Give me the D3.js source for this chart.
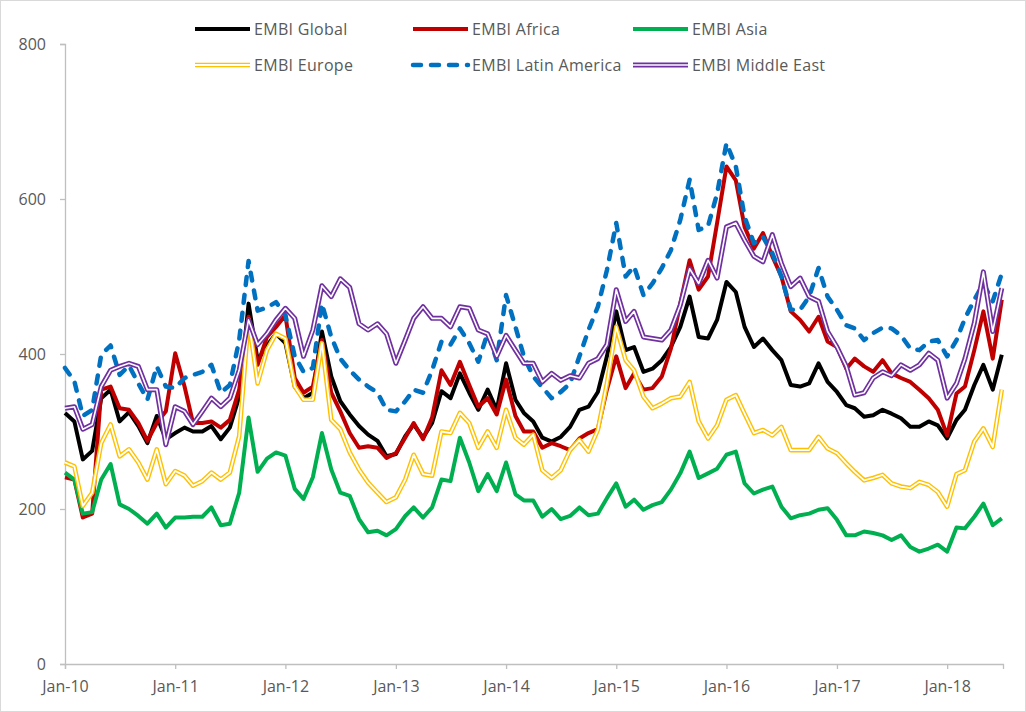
<!DOCTYPE html>
<html>
<head>
<meta charset="utf-8">
<script src="https://cdn.jsdelivr.net/npm/d3@7"></script>
<style>
    body { margin: 0; background: #fff; }
    svg { display: block; font-family: "Open Sans", "Liberation Sans", sans-serif; }
</style>
</head>
<body>
<svg id="chart" width="1026" height="712"></svg>
<script>
// monthly spreads, Jan-10 .. Jul-18 (bp)
var startMonth = [2010, 0];
var yTicks = [0, 200, 400, 600, 800];

var embiGlobal = [324, 313, 264, 275, 343, 354, 313, 325, 307, 285, 320, 290,
    298, 305, 300, 300, 307, 290, 305, 345, 465, 392, 411, 426,
    414, 358, 343, 350, 429, 371, 339, 322, 307, 296, 288, 268,
    271, 294, 309, 292, 311, 352, 343, 375, 350, 328, 354, 328,
    388, 341, 324, 313, 292, 287, 293, 306, 328, 332, 351, 397,
    455, 405, 409, 377, 381, 392, 409, 435, 474, 422, 420, 444,
    493, 480, 435, 409, 420, 405, 392, 360, 358, 362, 388, 364,
    351, 334, 330, 319, 321, 328, 323, 317, 306, 306, 313, 308,
    291, 315, 328, 360, 386, 354, 399];

var embiAfrica = [241, 238, 189, 194, 354, 358, 330, 328, 311, 288, 311, 326,
    401, 358, 311, 311, 313, 305, 315, 354, 448, 386, 422, 435,
    450, 369, 350, 358, 418, 350, 326, 298, 279, 281, 279, 266,
    272, 292, 311, 290, 318, 379, 360, 390, 360, 332, 343, 322,
    367, 320, 300, 300, 279, 285, 281, 276, 291, 298, 303, 354,
    397, 356, 375, 354, 356, 371, 407, 465, 521, 483, 500, 569,
    642, 624, 564, 536, 556, 526, 500, 455, 444, 429, 448, 416,
    409, 381, 394, 384, 377, 392, 375, 369, 364, 354, 343, 328,
    295, 349, 358, 405, 455, 394, 470];

var embiAsia = [247, 238, 194, 196, 238, 258, 206, 200, 191, 181, 194, 176,
    189, 189, 190, 190, 202, 179, 181, 221, 318, 248, 265, 273,
    269, 226, 213, 241, 298, 251, 221, 217, 187, 170, 172, 166,
    174, 191, 202, 189, 202, 238, 236, 292, 260, 223, 245, 223,
    260, 219, 211, 211, 190, 200, 187, 191, 202, 192, 194, 214,
    233, 203, 212, 199, 205, 209, 225, 246, 274, 240, 246, 252,
    270, 274, 233, 220, 225, 229, 203, 188, 192, 194, 199, 201,
    186, 166, 166, 171, 169, 166, 160, 166, 151, 145, 149, 154,
    145, 176, 175, 190, 207, 179, 188];

var embiEurope = [260, 255, 204, 221, 285, 309, 268, 277, 260, 238, 277, 232,
    249, 243, 230, 236, 247, 238, 247, 294, 444, 362, 405, 426,
    420, 358, 341, 341, 414, 315, 303, 273, 251, 234, 221, 209,
    215, 238, 270, 245, 243, 300, 298, 324, 311, 279, 300, 279,
    328, 292, 283, 296, 250, 240, 250, 276, 289, 274, 302, 362,
    435, 392, 379, 345, 330, 336, 343, 345, 364, 313, 291, 308,
    341, 347, 323, 298, 302, 295, 306, 276, 276, 276, 293, 278,
    272, 259, 248, 237, 240, 244, 233, 229, 227, 235, 231, 222,
    203, 245, 250, 287, 304, 280, 354];

var embiLatin = [382, 365, 320, 328, 399, 411, 373, 385, 362, 341, 384, 358,
    356, 369, 373, 377, 386, 350, 360, 418, 520, 456, 460, 467,
    450, 397, 377, 382, 465, 422, 394, 379, 367, 358, 350, 328,
    326, 339, 354, 350, 379, 416, 412, 433, 414, 390, 427, 392,
    476, 435, 397, 371, 357, 343, 351, 362, 397, 431, 461, 508,
    569, 500, 513, 476, 491, 511, 534, 573, 625, 560, 565, 607,
    672, 642, 577, 543, 551, 530, 500, 457, 457, 474, 511, 474,
    457, 437, 433, 418, 427, 434, 433, 424, 407, 405, 416, 418,
    397, 418, 446, 470, 491, 468, 504];

var embiMiddleEast = [330, 332, 303, 309, 358, 379, 384, 388, 384, 354, 354, 283,
    332, 326, 309, 326, 343, 332, 343, 379, 444, 412, 426, 444,
    459, 446, 397, 431, 488, 474, 497, 486, 439, 431, 439, 426,
    388, 418, 446, 461, 446, 446, 435, 461, 459, 431, 426, 397,
    424, 405, 388, 388, 364, 375, 366, 372, 369, 388, 394, 412,
    483, 442, 455, 422, 420, 418, 431, 463, 510, 491, 521, 498,
    564, 569, 547, 526, 519, 554, 517, 487, 498, 474, 468, 429,
    409, 384, 347, 350, 369, 377, 372, 386, 379, 386, 401, 392,
    343, 362, 394, 440, 506, 429, 485];

var seriesNames = ["EMBI Global", "EMBI Africa", "EMBI Asia",
    "EMBI Europe", "EMBI Latin America", "EMBI Middle East"];
var seriesValues = [embiGlobal, embiAfrica, embiAsia, embiEurope, embiLatin, embiMiddleEast];

// how each series is stroked
var styles = [
    {color: "#000000", width: 4},
    {color: "#c00000", width: 4},
    {color: "#00b050", width: 4},
    {color: "#ffc000", width: 4.6, inner: 1.8},
    {color: "#0070c0", width: 4.5, dash: "8,10"},
    {color: "#7030a0", width: 5, inner: 1.6}
];

var svg = d3.select("#chart"),
    plotLeft = 65,
    plotRight = 1003,
    plotTop = 44,
    plotBottom = 664,
    axisColor = "#bfbfbf",
    textColor = "#595959";

function monthDate(i) {
    return new Date(startMonth[0], startMonth[1] + i, 1);
}

var months = embiGlobal.map(function (d, i) { return monthDate(i); });

var x = d3.scaleTime()
    .domain([monthDate(0), new Date(2018, 6, 5)])
    .range([plotLeft, plotRight]);

var y = d3.scaleLinear()
    .domain([0, 800])
    .range([plotBottom, plotTop]);

// chart frame
svg.append("rect")
    .attr("x", 0.5).attr("y", 0.5)
    .attr("width", 1025).attr("height", 711)
    .attr("fill", "none")
    .attr("stroke", "#d9d9d9");

// y axis
var yAxis = svg.append("g")
    .attr("transform", "translate(" + plotLeft + ",0)")
    .call(d3.axisLeft(y).tickValues(yTicks).tickSize(5).tickPadding(14));

// x axis
var xAxis = svg.append("g")
    .attr("transform", "translate(0," + plotBottom + ")")
    .call(d3.axisBottom(x)
        .ticks(d3.timeYear.every(1))
        .tickFormat(d3.timeFormat("%b-%y"))
        .tickSize(5)
        .tickPadding(12));

[yAxis, xAxis].forEach(function (ax) {
    ax.select(".domain").attr("stroke", axisColor).attr("stroke-width", 1.3);
    ax.selectAll(".tick line").attr("stroke", axisColor).attr("stroke-width", 1.3);
    ax.selectAll(".tick text")
        .attr("fill", textColor)
        .style("font-size", "16px")
        .style("font-family", "'Open Sans', sans-serif");
});

var line = d3.line()
    .x(function (d, i) { return x(months[i]); })
    .y(function (d) { return y(d); });

function strokePath(g, pathData, st) {
    var p = g.append("path")
        .attr("d", pathData)
        .attr("fill", "none")
        .attr("stroke", st.color)
        .attr("stroke-width", st.width)
        .attr("stroke-linejoin", "round");
    if (st.dash) {
        p.attr("stroke-dasharray", st.dash).attr("stroke-linecap", "round");
    }
    if (st.inner) {
        g.append("path")
            .attr("d", pathData)
            .attr("fill", "none")
            .attr("stroke", "#ffffff")
            .attr("stroke-width", st.inner)
            .attr("stroke-linejoin", "round");
    }
}

var plot = svg.append("g");
seriesValues.forEach(function (vals, k) {
    strokePath(plot.append("g"), line(vals), styles[k]);
});

// legend, two rows of three
var legendCols = [195, 413, 633],
    legendRows = [29, 65];

seriesNames.forEach(function (name, k) {
    var lx = legendCols[k % 3],
        ly = legendRows[Math.floor(k / 3)],
        g = svg.append("g");

    strokePath(g, "M" + lx + "," + ly + "H" + (lx + 55), styles[k]);

    g.append("text")
        .attr("x", lx + 59)
        .attr("y", ly)
        .attr("dy", "0.35em")
        .attr("fill", textColor)
        .style("font-size", "16px")
        .style("letter-spacing", "0.3px")
        .text(name);
});
</script>
</body>
</html>
